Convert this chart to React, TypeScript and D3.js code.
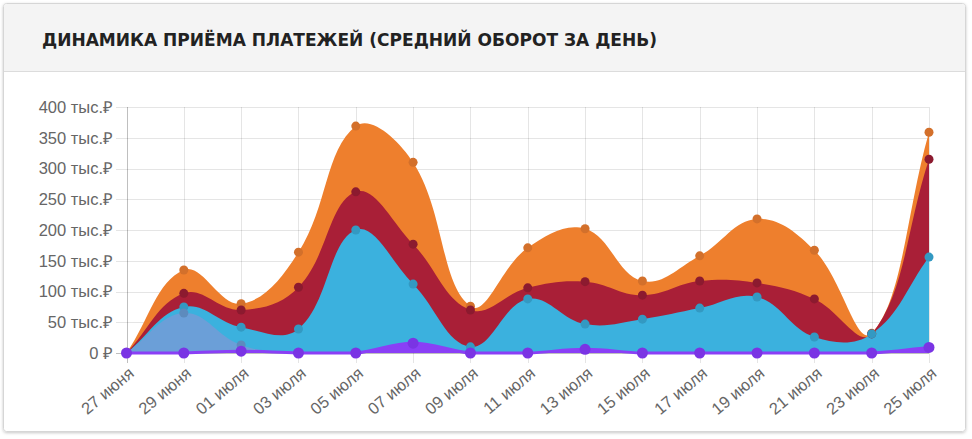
import React from "react";
import * as d3 from "d3";

const labels = ["27 июня","29 июня","01 июля","03 июля","05 июля","07 июля","09 июля","11 июля","13 июля","15 июля","17 июля","19 июля","21 июля","23 июля","25 июля"];
const orangeValues = [0,135,80,164,369,310,76,171,202,117,158,218,167,32,359];
const redValues = [0,97,70,107,262,177,70,106,116,94,117,114,88,31,315];
const cyanValues = [0,75,42,39,200,112,10,88,47,55,73,91,26,31,156];
const steelValues = [0,65,13,0,0,0,0,0,0,0,0,0,0,0,0];
const purpleValues = [0,0,3,0,0,16,0,0,6,0,0,0,0,0,9];
const yTicks = [0,50,100,150,200,250,300,350,400];
const title = "ДИНАМИКА ПРИЁМА ПЛАТЕЖЕЙ (СРЕДНИЙ ОБОРОТ ЗА ДЕНЬ)";

const series = [
  { values: orangeValues, fill: "#ee7f2d", point: "#d3702b", r: 4.5 },
  { values: redValues, fill: "#a91f37", point: "#8c1a2f", r: 4.5 },
  { values: cyanValues, fill: "#3bb1de", point: "#3399c2", r: 4.5 },
  { values: steelValues, fill: "#6b9fd8", point: "#5d8bbd", r: 4.5 },
  { values: purpleValues, fill: "#8a3ff6", point: "#7a34e4", r: 5.5, line: true },
];

const W = 972, H = 439;
const left = 126.5, right = 929, top = 107, bottom = 353;

const makeSpline = (tension: number, minY: number, maxY: number) => (context: any) => {
  let pts: [number, number][] = [];
  let line = NaN;
  const clampY = (v: number) => Math.max(minY, Math.min(maxY, v));
  return {
    areaStart() { line = 0; },
    areaEnd() { line = NaN; },
    lineStart() { pts = []; },
    point(x: number, y: number) { pts.push([+x, +y]); },
    lineEnd() {
      const n = pts.length;
      if (!n) return;
      if (line) context.lineTo(pts[0][0], pts[0][1]);
      else context.moveTo(pts[0][0], pts[0][1]);
      const cps = pts.map((p, i) => {
        const prev = pts[Math.max(i - 1, 0)];
        const next = pts[Math.min(i + 1, n - 1)];
        const d01 = Math.hypot(p[0] - prev[0], p[1] - prev[1]);
        const d12 = Math.hypot(next[0] - p[0], next[1] - p[1]);
        let s01 = d01 / (d01 + d12);
        let s12 = d12 / (d01 + d12);
        if (isNaN(s01)) s01 = 0;
        if (isNaN(s12)) s12 = 0;
        const fa = tension * s01, fb = tension * s12;
        return {
          px: p[0] - fa * (next[0] - prev[0]),
          py: clampY(p[1] - fa * (next[1] - prev[1])),
          nx: p[0] + fb * (next[0] - prev[0]),
          ny: clampY(p[1] + fb * (next[1] - prev[1])),
        };
      });
      for (let i = 0; i < n - 1; i++) {
        context.bezierCurveTo(cps[i].nx, cps[i].ny, cps[i + 1].px, cps[i + 1].py, pts[i + 1][0], pts[i + 1][1]);
      }
      if (line) context.closePath();
      line = 1 - line;
    },
  };
};

export default function App() {
  const x = d3.scaleLinear().domain([0, labels.length - 1]).range([left, right]);
  const y = d3.scaleLinear().domain([0, 400]).range([bottom, top]);
  const curve = makeSpline(0.4, top, bottom) as any;
  const area = d3.area<number>().x((_, i) => x(i)).y0(y(0)).y1((d) => y(d)).curve(curve);
  const line = d3.line<number>().x((_, i) => x(i)).y((d) => y(d)).curve(curve);
  const font = "'Liberation Sans', Arial, Helvetica, sans-serif";

  return (
    <div style={{ position: "absolute", left: 0, top: 0 }}>
      <svg width={W} height={H} style={{ display: "block" }}>
        <defs>
          <filter id="sh" x="-5%" y="-5%" width="110%" height="110%">
            <feDropShadow dx="0" dy="1" stdDeviation="1.5" floodColor="#000" floodOpacity="0.22" />
          </filter>
        </defs>
        <rect x={0} y={0} width={W} height={H} fill="#ffffff" />
        <rect x={3.5} y={3.5} width={962} height={428} rx={3} fill="#ffffff" stroke="#d6d6d6" filter="url(#sh)" />
        <path d="M4,71 L4,7 Q4,4 7,4 L962,4 Q965,4 965,7 L965,71 Z" fill="#f4f4f4" />
        <line x1={4} x2={965} y1={71.5} y2={71.5} stroke="#dcdcdc" />
        <text x={42} y={46} fontFamily="'DejaVu Sans Condensed', 'DejaVu Sans', sans-serif" fontWeight="bold" fontSize={17.5} fill="#222" textLength={615} lengthAdjust="spacingAndGlyphs">{title}</text>

        {/* grid */}
        {yTicks.map((t) => (
          <line key={"h" + t} x1={116} x2={right} y1={Math.round(y(t)) + 0.5} y2={Math.round(y(t)) + 0.5} stroke={t === 0 ? "rgba(0,0,0,0.25)" : "rgba(0,0,0,0.1)"} />
        ))}
        {labels.map((l, i) => (
          <line key={"v" + l} x1={Math.round(x(i)) + 0.5} x2={Math.round(x(i)) + 0.5} y1={top} y2={bottom + 10} stroke={i === 0 ? "rgba(0,0,0,0.25)" : "rgba(0,0,0,0.1)"} />
        ))}

        {/* areas */}
        {series.map((s, k) => (
          <path key={"a" + k} d={area(s.values) || ""} fill={s.fill} />
        ))}
        {series.filter((s) => s.line).map((s, k) => (
          <path key={"l" + k} d={line(s.values) || ""} fill="none" stroke={s.fill} strokeWidth={3} />
        ))}
        {series.map((s, k) =>
          s.values.map((v, i) =>
            k === 3 && i > 2 ? null : (
              <circle key={"p" + k + "-" + i} cx={x(i)} cy={y(v)} r={s.r} fill={s.point} />
            )
          )
        )}

        {/* y labels */}
        {yTicks.map((t) => (
          <text key={"yl" + t} x={113} y={y(t)} dy="0.35em" textAnchor="end" fontFamily={font} fontSize={16.5} fill="#666">
            {t === 0 ? "0 ₽" : `${t} тыс.₽`}
          </text>
        ))}
        {/* x labels */}
        {labels.map((l, i) => (
          <text key={"xl" + l} transform={`translate(${x(i) + 1},${366}) rotate(-40)`} textAnchor="end" dy="0.72em" fontFamily={font} fontSize={16.5} fill="#666">
            {l}
          </text>
        ))}
      </svg>
    </div>
  );
}
